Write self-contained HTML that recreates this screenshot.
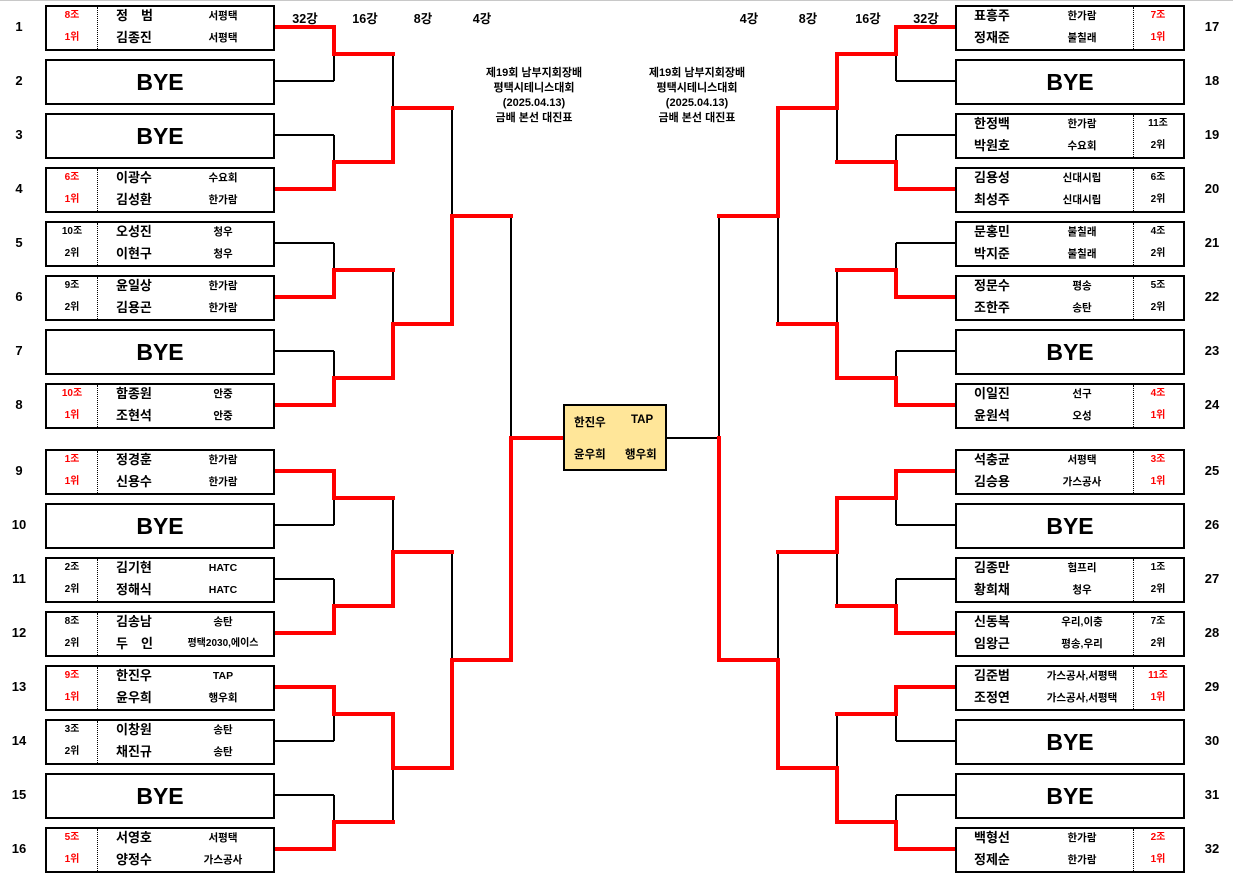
<!DOCTYPE html>
<html><head><meta charset="utf-8">
<style>
*{margin:0;padding:0;box-sizing:border-box}
body{width:1233px;height:876px;background:#fff;position:relative;overflow:hidden;font-family:"Liberation Sans","Noto Sans CJK KR","NanumGothic",sans-serif;color:#000}
.topl{position:absolute;left:0;top:0;width:1233px;height:1px;background:#c8c8c8}
.b{position:absolute;width:230px;height:46px;border:2px solid #000;background:#fff}
.L{left:45px}.R{left:955px}
.row{position:absolute;height:18px;line-height:18px;white-space:nowrap;font-weight:bold}
.r1{top:0}.r2{top:22px}
.g{font-size:10px;width:50px;text-align:center}
.L .g{left:0}.R .g{left:176px}
.red{color:#f00}
.n{font-size:13px}
.L .n{left:69px}.R .n{left:17px}
.c{font-size:10.5px;text-align:center}
.L .c{left:126px;width:100px}.R .c{left:70px;width:110px}
.sep{position:absolute;top:0;bottom:0;border-left:1px dotted #000}
.L .sep{left:50px}.R .sep{left:176px}
.bye{position:absolute;left:0;right:0;top:0;line-height:42px;text-align:center;font-size:23px;font-weight:bold}
.num{position:absolute;width:30px;text-align:center;font-size:13px;font-weight:bold;line-height:16px}
.hd{position:absolute;font-size:12.5px;font-weight:bold;top:8px;width:50px;text-align:center}
.tt{position:absolute;top:66px;width:160px;text-align:center;font-size:11px;font-weight:bold;line-height:15px}
.ctr{position:absolute;left:563px;top:404px;width:104px;height:67px;background:#FFE699;border:2px solid #000}
.ctr div{position:absolute;font-size:11.5px;font-weight:bold}
</style></head><body>
<div class="topl"></div>
<svg width="1233" height="876" style="position:absolute;left:0;top:0">
<g stroke="#000" stroke-width="2" fill="none">
<path d="M275 81H334M275 135H334M275 243H334M275 351H334M275 525H334M275 579H334M275 741H334M275 795H334"/>
<path d="M334 54V81M334 135V162M334 243V270M334 351V378M334 498V525M334 579V606M334 714V741M334 795V822"/>
<path d="M393 54V108M393 270V324M393 498V552M393 768V822"/>
<path d="M452 108V216M452 552V660M511 216V438"/>
<path d="M667 438H719M719 216V438"/>
<path d="M778 216V324M778 552V660"/>
<path d="M837 108V162M837 270V324M837 552V606M837 714V768"/>
<path d="M896 54V81M896 135V162M896 243V270M896 351V378M896 498V525M896 579V606M896 714V741M896 795V822"/>
<path d="M896 81H955M896 135H955M896 243H955M896 351H955M896 525H955M896 579H955M896 741H955M896 795H955"/>
</g>
<g stroke="#f00" stroke-width="4" fill="none" stroke-linecap="square">
<path d="M277 27H334V54H393"/>
<path d="M277 189H334V162H393V108H452"/>
<path d="M277 297H334V270H393"/>
<path d="M277 405H334V378H393V324H452V216H511"/>
<path d="M277 471H334V498H393"/>
<path d="M277 633H334V606H393V552H452"/>
<path d="M277 687H334V714H393V768H452V660H511V438H561"/>
<path d="M277 849H334V822H393"/>
<path d="M953 27H896V54H837V108H778V216H719"/>
<path d="M953 189H896V162H837"/>
<path d="M953 297H896V270H837"/>
<path d="M953 405H896V378H837V324H778"/>
<path d="M953 471H896V498H837V552H778"/>
<path d="M953 633H896V606H837"/>
<path d="M953 687H896V714H837"/>
<path d="M953 849H896V822H837V768H778V660H719V438"/>
</g>
</svg>

<div class="hd" style="left:280px">32강</div>
<div class="hd" style="left:340px">16강</div>
<div class="hd" style="left:398px">8강</div>
<div class="hd" style="left:457px">4강</div>
<div class="hd" style="left:724px">4강</div>
<div class="hd" style="left:783px">8강</div>
<div class="hd" style="left:843px">16강</div>
<div class="hd" style="left:901px">32강</div>

<div class="tt" style="left:454px">제19회 남부지회장배<br>평택시테니스대회<br>(2025.04.13)<br>금배 본선 대진표</div>
<div class="tt" style="left:617px">제19회 남부지회장배<br>평택시테니스대회<br>(2025.04.13)<br>금배 본선 대진표</div>

<div class="ctr">
<div style="left:9px;top:8px">한진우</div><div style="left:66px;top:8px">TAP</div>
<div style="left:9px;top:40px">윤우희</div><div style="left:60px;top:40px">행우회</div>
</div>

<div class="num" style="left:4px;top:19px">1</div>
<div class="num" style="left:4px;top:73px">2</div>
<div class="num" style="left:4px;top:127px">3</div>
<div class="num" style="left:4px;top:181px">4</div>
<div class="num" style="left:4px;top:235px">5</div>
<div class="num" style="left:4px;top:289px">6</div>
<div class="num" style="left:4px;top:343px">7</div>
<div class="num" style="left:4px;top:397px">8</div>
<div class="num" style="left:4px;top:463px">9</div>
<div class="num" style="left:4px;top:517px">10</div>
<div class="num" style="left:4px;top:571px">11</div>
<div class="num" style="left:4px;top:625px">12</div>
<div class="num" style="left:4px;top:679px">13</div>
<div class="num" style="left:4px;top:733px">14</div>
<div class="num" style="left:4px;top:787px">15</div>
<div class="num" style="left:4px;top:841px">16</div>
<div class="num" style="left:1197px;top:19px">17</div>
<div class="num" style="left:1197px;top:73px">18</div>
<div class="num" style="left:1197px;top:127px">19</div>
<div class="num" style="left:1197px;top:181px">20</div>
<div class="num" style="left:1197px;top:235px">21</div>
<div class="num" style="left:1197px;top:289px">22</div>
<div class="num" style="left:1197px;top:343px">23</div>
<div class="num" style="left:1197px;top:397px">24</div>
<div class="num" style="left:1197px;top:463px">25</div>
<div class="num" style="left:1197px;top:517px">26</div>
<div class="num" style="left:1197px;top:571px">27</div>
<div class="num" style="left:1197px;top:625px">28</div>
<div class="num" style="left:1197px;top:679px">29</div>
<div class="num" style="left:1197px;top:733px">30</div>
<div class="num" style="left:1197px;top:787px">31</div>
<div class="num" style="left:1197px;top:841px">32</div>

<div class="b L" style="top:5px"><div class="sep"></div><div class="row r1 g red">8조</div><div class="row r2 g red">1위</div><div class="row r1 n">정　범</div><div class="row r2 n">김종진</div><div class="row r1 c">서평택</div><div class="row r2 c">서평택</div></div>
<div class="b L" style="top:59px"><div class="bye">BYE</div></div>
<div class="b L" style="top:113px"><div class="bye">BYE</div></div>
<div class="b L" style="top:167px"><div class="sep"></div><div class="row r1 g red">6조</div><div class="row r2 g red">1위</div><div class="row r1 n">이광수</div><div class="row r2 n">김성환</div><div class="row r1 c">수요회</div><div class="row r2 c">한가람</div></div>
<div class="b L" style="top:221px"><div class="sep"></div><div class="row r1 g">10조</div><div class="row r2 g">2위</div><div class="row r1 n">오성진</div><div class="row r2 n">이현구</div><div class="row r1 c">청우</div><div class="row r2 c">청우</div></div>
<div class="b L" style="top:275px"><div class="sep"></div><div class="row r1 g">9조</div><div class="row r2 g">2위</div><div class="row r1 n">윤일상</div><div class="row r2 n">김용곤</div><div class="row r1 c">한가람</div><div class="row r2 c">한가람</div></div>
<div class="b L" style="top:329px"><div class="bye">BYE</div></div>
<div class="b L" style="top:383px"><div class="sep"></div><div class="row r1 g red">10조</div><div class="row r2 g red">1위</div><div class="row r1 n">함종원</div><div class="row r2 n">조현석</div><div class="row r1 c">안중</div><div class="row r2 c">안중</div></div>
<div class="b L" style="top:449px"><div class="sep"></div><div class="row r1 g red">1조</div><div class="row r2 g red">1위</div><div class="row r1 n">정경훈</div><div class="row r2 n">신용수</div><div class="row r1 c">한가람</div><div class="row r2 c">한가람</div></div>
<div class="b L" style="top:503px"><div class="bye">BYE</div></div>
<div class="b L" style="top:557px"><div class="sep"></div><div class="row r1 g">2조</div><div class="row r2 g">2위</div><div class="row r1 n">김기현</div><div class="row r2 n">정해식</div><div class="row r1 c">HATC</div><div class="row r2 c">HATC</div></div>
<div class="b L" style="top:611px"><div class="sep"></div><div class="row r1 g">8조</div><div class="row r2 g">2위</div><div class="row r1 n">김송남</div><div class="row r2 n">두　인</div><div class="row r1 c">송탄</div><div class="row r2 c" style="font-size:10px;left:120px;width:112px">평택2030,에이스</div></div>
<div class="b L" style="top:665px"><div class="sep"></div><div class="row r1 g red">9조</div><div class="row r2 g red">1위</div><div class="row r1 n">한진우</div><div class="row r2 n">윤우희</div><div class="row r1 c">TAP</div><div class="row r2 c">행우회</div></div>
<div class="b L" style="top:719px"><div class="sep"></div><div class="row r1 g">3조</div><div class="row r2 g">2위</div><div class="row r1 n">이창원</div><div class="row r2 n">채진규</div><div class="row r1 c">송탄</div><div class="row r2 c">송탄</div></div>
<div class="b L" style="top:773px"><div class="bye">BYE</div></div>
<div class="b L" style="top:827px"><div class="sep"></div><div class="row r1 g red">5조</div><div class="row r2 g red">1위</div><div class="row r1 n">서영호</div><div class="row r2 n">양정수</div><div class="row r1 c">서평택</div><div class="row r2 c">가스공사</div></div>

<div class="b R" style="top:5px"><div class="sep"></div><div class="row r1 n">표흥주</div><div class="row r2 n">정재준</div><div class="row r1 c">한가람</div><div class="row r2 c">불칠래</div><div class="row r1 g red">7조</div><div class="row r2 g red">1위</div></div>
<div class="b R" style="top:59px"><div class="bye">BYE</div></div>
<div class="b R" style="top:113px"><div class="sep"></div><div class="row r1 n">한정백</div><div class="row r2 n">박원호</div><div class="row r1 c">한가람</div><div class="row r2 c">수요회</div><div class="row r1 g">11조</div><div class="row r2 g">2위</div></div>
<div class="b R" style="top:167px"><div class="sep"></div><div class="row r1 n">김용성</div><div class="row r2 n">최성주</div><div class="row r1 c">신대시립</div><div class="row r2 c">신대시립</div><div class="row r1 g">6조</div><div class="row r2 g">2위</div></div>
<div class="b R" style="top:221px"><div class="sep"></div><div class="row r1 n">문홍민</div><div class="row r2 n">박지준</div><div class="row r1 c">불칠래</div><div class="row r2 c">불칠래</div><div class="row r1 g">4조</div><div class="row r2 g">2위</div></div>
<div class="b R" style="top:275px"><div class="sep"></div><div class="row r1 n">정문수</div><div class="row r2 n">조한주</div><div class="row r1 c">평송</div><div class="row r2 c">송탄</div><div class="row r1 g">5조</div><div class="row r2 g">2위</div></div>
<div class="b R" style="top:329px"><div class="bye">BYE</div></div>
<div class="b R" style="top:383px"><div class="sep"></div><div class="row r1 n">이일진</div><div class="row r2 n">윤원석</div><div class="row r1 c">선구</div><div class="row r2 c">오성</div><div class="row r1 g red">4조</div><div class="row r2 g red">1위</div></div>
<div class="b R" style="top:449px"><div class="sep"></div><div class="row r1 n">석충균</div><div class="row r2 n">김승용</div><div class="row r1 c">서평택</div><div class="row r2 c">가스공사</div><div class="row r1 g red">3조</div><div class="row r2 g red">1위</div></div>
<div class="b R" style="top:503px"><div class="bye">BYE</div></div>
<div class="b R" style="top:557px"><div class="sep"></div><div class="row r1 n">김종만</div><div class="row r2 n">황희채</div><div class="row r1 c">험프리</div><div class="row r2 c">청우</div><div class="row r1 g">1조</div><div class="row r2 g">2위</div></div>
<div class="b R" style="top:611px"><div class="sep"></div><div class="row r1 n">신동복</div><div class="row r2 n">임왕근</div><div class="row r1 c">우리,이충</div><div class="row r2 c">평송,우리</div><div class="row r1 g">7조</div><div class="row r2 g">2위</div></div>
<div class="b R" style="top:665px"><div class="sep"></div><div class="row r1 n">김준범</div><div class="row r2 n">조정연</div><div class="row r1 c">가스공사,서평택</div><div class="row r2 c">가스공사,서평택</div><div class="row r1 g red">11조</div><div class="row r2 g red">1위</div></div>
<div class="b R" style="top:719px"><div class="bye">BYE</div></div>
<div class="b R" style="top:773px"><div class="bye">BYE</div></div>
<div class="b R" style="top:827px"><div class="sep"></div><div class="row r1 n">백형선</div><div class="row r2 n">정제순</div><div class="row r1 c">한가람</div><div class="row r2 c">한가람</div><div class="row r1 g red">2조</div><div class="row r2 g red">1위</div></div>
</body></html>
